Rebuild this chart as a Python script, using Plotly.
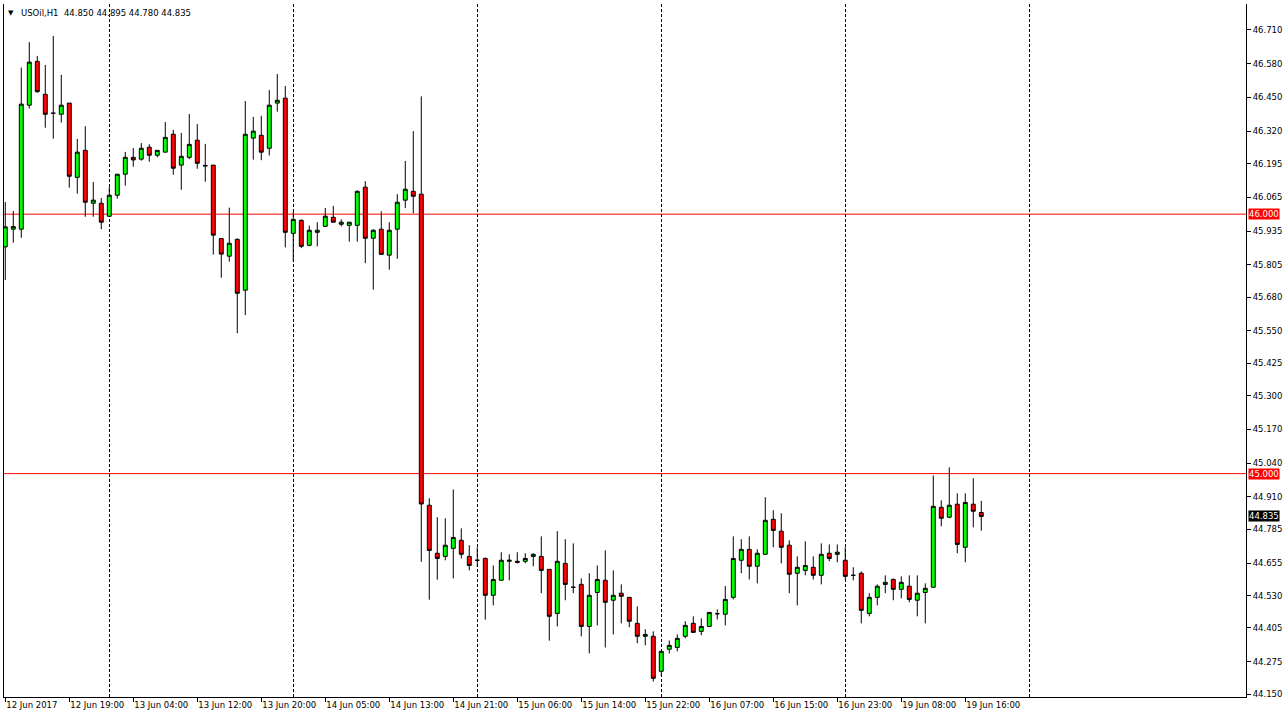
import plotly.graph_objects as go

symbol = "USOil,H1"

opens = [45.874, 45.942, 45.942, 46.420, 46.589, 46.462, 46.389, 46.385, 46.428, 46.142,
         46.246, 46.042, 46.042, 45.992, 46.073, 46.154, 46.219, 46.212, 46.258, 46.227,
         46.239, 46.308, 46.189, 46.219, 46.285, 46.188, 46.189, 45.906, 45.838, 45.903,
         45.707, 46.293, 46.304, 46.254, 46.428, 46.447, 45.926, 45.976, 45.880, 45.930,
         45.953, 45.988, 45.961, 45.957, 45.957, 46.104, 45.907, 45.942, 45.842, 45.942,
         46.054, 46.088, 46.077, 44.878, 44.693, 44.681, 44.712, 44.743, 44.681, 44.666,
         44.673, 44.531, 44.589, 44.662, 44.662, 44.662, 44.681, 44.681, 44.631, 44.461,
         44.654, 44.562, 44.573, 44.411, 44.542, 44.589, 44.512, 44.539, 44.523, 44.423,
         44.373, 44.373, 44.238, 44.323, 44.330, 44.373, 44.423, 44.392, 44.411, 44.460,
         44.458, 44.523, 44.666, 44.708, 44.643, 44.689, 44.824, 44.778, 44.724, 44.616,
         44.627, 44.639, 44.608, 44.693, 44.689, 44.666, 44.608, 44.616, 44.461, 44.523,
         44.573, 44.592, 44.554, 44.566, 44.512, 44.542, 44.562, 44.870, 44.832, 44.882,
         44.716, 44.882, 44.850]

highs = [46.047, 46.012, 46.565, 46.663, 46.610, 46.575, 46.687, 46.537, 46.428, 46.290,
         46.339, 46.124, 46.062, 46.104, 46.154, 46.240, 46.255, 46.274, 46.269, 46.246,
         46.355, 46.325, 46.313, 46.386, 46.347, 46.271, 46.189, 45.906, 46.025, 45.907,
         46.436, 46.375, 46.379, 46.479, 46.540, 46.494, 46.010, 45.980, 45.956, 45.969,
         46.024, 46.032, 45.980, 45.969, 46.092, 46.127, 45.942, 46.011, 45.969, 46.077,
         46.205, 46.320, 46.454, 44.905, 44.832, 44.828, 44.939, 44.789, 44.724, 44.716,
         44.677, 44.646, 44.697, 44.689, 44.697, 44.693, 44.693, 44.758, 44.631, 44.778,
         44.747, 44.731, 44.596, 44.616, 44.646, 44.704, 44.627, 44.573, 44.523, 44.488,
         44.400, 44.392, 44.315, 44.357, 44.380, 44.431, 44.450, 44.442, 44.465, 44.477,
         44.567, 44.758, 44.747, 44.758, 44.708, 44.909, 44.859, 44.847, 44.743, 44.681,
         44.739, 44.681, 44.731, 44.727, 44.727, 44.716, 44.639, 44.623, 44.539, 44.573,
         44.608, 44.596, 44.604, 44.608, 44.608, 44.577, 44.993, 44.897, 45.024, 44.924,
         44.924, 44.982, 44.895]

lows = [45.746, 45.890, 45.909, 46.407, 46.468, 46.333, 46.291, 46.353, 46.102, 46.079,
        45.990, 45.990, 45.942, 45.990, 46.060, 46.110, 46.183, 46.206, 46.202, 46.219,
        46.239, 46.152, 46.094, 46.212, 46.175, 46.125, 45.844, 45.755, 45.817, 45.541,
        45.611, 46.210, 46.208, 46.226, 46.395, 45.872, 45.817, 45.869, 45.876, 45.876,
        45.953, 45.969, 45.953, 45.894, 45.894, 45.811, 45.709, 45.845, 45.786, 45.828,
        46.023, 46.003, 44.660, 44.514, 44.591, 44.666, 44.596, 44.673, 44.627, 44.640,
        44.437, 44.492, 44.589, 44.589, 44.654, 44.654, 44.643, 44.539, 44.356, 44.411,
        44.512, 44.539, 44.373, 44.307, 44.415, 44.330, 44.380, 44.423, 44.408, 44.346,
        44.338, 44.199, 44.220, 44.307, 44.315, 44.365, 44.388, 44.377, 44.411, 44.438,
        44.415, 44.515, 44.616, 44.592, 44.577, 44.689, 44.716, 44.654, 44.539, 44.492,
        44.608, 44.592, 44.573, 44.662, 44.658, 44.592, 44.589, 44.423, 44.450, 44.492,
        44.539, 44.512, 44.519, 44.504, 44.450, 44.423, 44.562, 44.797, 44.828, 44.693,
        44.658, 44.793, 44.780]

closes = [45.951, 45.952, 46.424, 46.586, 46.472, 46.385, 46.389, 46.420, 46.146, 46.239,
          46.046, 46.054, 45.969, 46.073, 46.154, 46.219, 46.209, 46.254, 46.227, 46.246,
          46.296, 46.177, 46.223, 46.269, 46.196, 46.186, 45.919, 45.846, 45.888, 45.695,
          46.308, 46.320, 46.239, 46.420, 46.439, 45.930, 45.980, 45.876, 45.938, 45.938,
          45.992, 45.969, 45.969, 45.969, 46.088, 45.907, 45.938, 45.845, 45.938, 46.046,
          46.096, 46.069, 44.883, 44.704, 44.673, 44.724, 44.754, 44.689, 44.646, 44.666,
          44.531, 44.592, 44.666, 44.666, 44.658, 44.673, 44.689, 44.627, 44.450, 44.662,
          44.573, 44.562, 44.411, 44.531, 44.592, 44.504, 44.531, 44.527, 44.431, 44.373,
          44.380, 44.211, 44.315, 44.338, 44.365, 44.415, 44.388, 44.411, 44.465, 44.460,
          44.515, 44.673, 44.708, 44.643, 44.693, 44.820, 44.781, 44.716, 44.612, 44.639,
          44.646, 44.608, 44.689, 44.673, 44.697, 44.604, 44.608, 44.473, 44.523, 44.566,
          44.581, 44.554, 44.581, 44.515, 44.539, 44.558, 44.874, 44.828, 44.878, 44.727,
          44.889, 44.855, 44.835]

# x-axis labels (every 8th bar)
x_label_idx = [0, 8, 16, 24, 32, 40, 48, 56, 64, 72, 80, 88, 96, 104, 112, 120]
x_labels = ["12 Jun 2017", "12 Jun 19:00", "13 Jun 04:00", "13 Jun 12:00", "13 Jun 20:00",
            "14 Jun 05:00", "14 Jun 13:00", "14 Jun 21:00", "15 Jun 06:00", "15 Jun 14:00",
            "15 Jun 22:00", "16 Jun 07:00", "16 Jun 15:00", "16 Jun 23:00", "19 Jun 08:00",
            "19 Jun 16:00"]
# dashed vertical separators
sep_idx = [13, 36, 59, 82, 105, 128]

y_labels = ["46.710", "46.580", "46.450", "46.320", "46.195", "46.065", "45.935", "45.805",
            "45.680", "45.550", "45.425", "45.300", "45.170", "45.040", "44.910", "44.785",
            "44.655", "44.530", "44.405", "44.275", "44.150"]

levels = [46.000, 45.000]

FONT = "DejaVu Sans"
idx = list(range(len(opens)))

fig = go.Figure()
fig.add_trace(go.Candlestick(
    x=idx, open=opens, high=highs, low=lows, close=closes,
    increasing=dict(fillcolor="#00FF00", line=dict(color="black", width=1)),
    decreasing=dict(fillcolor="#FF0000", line=dict(color="black", width=1)),
    whiskerwidth=0, hoverinfo="skip", showlegend=False,
))

for lv in levels:
    fig.add_shape(type="line", xref="paper", x0=0, x1=1, yref="y", y0=lv, y1=lv,
                  line=dict(color="#FF0000", width=1), layer="below")
    fig.add_annotation(xref="paper", x=1, xanchor="left", xshift=2, yref="y", y=lv,
                       text=f"{lv:.3f}", showarrow=False, bgcolor="#FF0000",
                       font=dict(family=FONT, size=8.5, color="white"), borderpad=0)

last_close = closes[-1]
fig.add_annotation(xref="paper", x=1, xanchor="left", xshift=2, yref="y", y=last_close,
                   text=f"{last_close:.3f}", showarrow=False, bgcolor="black",
                   font=dict(family=FONT, size=8.5, color="white"), borderpad=0)

title_text = f"{symbol}  {opens[-1]:.3f} {highs[-1]:.3f} {lows[-1]:.3f} {closes[-1]:.3f}"
fig.add_annotation(xref="paper", yref="paper", x=0, y=1, xanchor="left", yanchor="top",
                   xshift=2, yshift=-3, text="▼", showarrow=False,
                   font=dict(family=FONT, size=7, color="black"))
fig.add_annotation(xref="paper", yref="paper", x=0, y=1, xanchor="left", yanchor="top",
                   xshift=15, yshift=-2, text=title_text, showarrow=False,
                   font=dict(family=FONT, size=8.5, color="black"))

fig.update_layout(
    width=1287, height=719,
    margin=dict(l=4, r=41, t=4, b=22),
    paper_bgcolor="white", plot_bgcolor="white",
    font=dict(family=FONT, size=8.5, color="black"),
    xaxis=dict(
        range=[-0.16, 155.09], rangeslider=dict(visible=False),
        tickmode="array", tickvals=x_label_idx, ticktext=x_labels,
        ticks="outside", ticklen=4, tickcolor="black",
        ticklabelposition="outside right",
        showline=True, linecolor="black", linewidth=1,
        showgrid=False, zeroline=False,
        minor=dict(tickmode="array", tickvals=sep_idx, showgrid=True,
                   gridcolor="black", griddash="3px,2px", gridwidth=1),
        tickfont=dict(family=FONT, size=8.5, color="black"),
    ),
    yaxis=dict(
        side="right", range=[44.139, 46.810],
        tickmode="array", tickvals=[float(v) for v in y_labels], ticktext=y_labels,
        ticks="outside", ticklen=4, tickcolor="black",
        showline=True, linecolor="black", linewidth=1, mirror=True,
        showgrid=False, zeroline=False,
        tickfont=dict(family=FONT, size=8.5, color="black"),
    ),
)

fig.write_html("out.html", config={"displayModeBar": False},
               post_script="document.body.style.margin='0';")
